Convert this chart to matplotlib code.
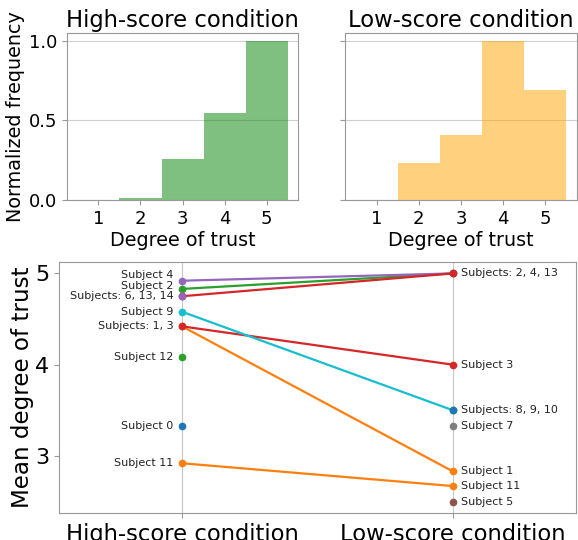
import matplotlib
matplotlib.use("Agg")
import matplotlib.pyplot as plt
import numpy as np

# histogram data (normalized frequency per trust level)
degrees = [1, 2, 3, 4, 5]
freq_high = [0.0, 0.015, 0.26, 0.55, 1.0]
freq_low = [0.0, 0.23, 0.41, 1.0, 0.69]

# mean degree of trust per subject (nan = not in that condition)
conditions = ["High-score condition", "Low-score condition"]
subjects = list(range(15))
mean_high = [3.33, 4.42, 4.83, 4.42, 4.92, np.nan, 4.75, np.nan, np.nan,
             4.58, np.nan, 2.92, 4.08, 4.75, 4.75]
mean_low = [np.nan, 2.83, 5.0, 4.0, 5.0, 2.5, np.nan, 3.33, 3.5,
            3.5, 3.5, 2.67, np.nan, 5.0, np.nan]

GRAY = "#999999"
TXT = "#222222"


def style(ax):
    for s in ax.spines.values():
        s.set_color(GRAY)
    ax.tick_params(color=GRAY, length=3.5)
    ax.set_axisbelow(True)


fig = plt.figure(figsize=(5.78, 5.40), dpi=100)
ax1 = fig.add_axes([0.1159, 0.6296, 0.3997, 0.3093])
ax2 = fig.add_axes([0.5969, 0.6296, 0.4014, 0.3093], sharey=ax1)
ax3 = fig.add_axes([0.1021, 0.05, 0.8945, 0.4648])

for ax, freq, col, title in [(ax1, freq_high, "green", conditions[0]),
                             (ax2, freq_low, "orange", conditions[1])]:
    ax.bar(degrees, freq, width=1.0, color=col, alpha=0.5, linewidth=0)
    ax.set_title(title, fontsize=16.3, pad=4)
    ax.set_xlabel("Degree of trust", fontsize=13.8, labelpad=2)
    ax.set_xticks(degrees)
    ax.set_yticks([0.0, 0.5, 1.0])
    ax.tick_params(labelsize=13)
    ax.grid(axis="y", color="#d0d0d0", linewidth=0.8)
    style(ax)
ax1.set_ylabel("Normalized frequency", fontsize=13.8, labelpad=3)
ax2.tick_params(labelleft=False)

# subject lines
for i in subjects:
    ax3.plot([0, 1], [mean_high[i], mean_low[i]], marker="o", markersize=4.5,
             linewidth=1.6, color=f"C{i % 10}")


def group_labels(values):
    groups = {}
    for i, v in enumerate(values):
        if not np.isnan(v):
            groups.setdefault(v, []).append(i)
    out = []
    for v in sorted(groups):
        ids = groups[v]
        if len(ids) == 1:
            txt = f"Subject {ids[0]}"
        else:
            txt = "Subjects: " + ", ".join(str(k) for k in ids)
        out.append((v, txt))
    return out


gap = 0.116
for x, vals, dx, ha in [(0, mean_high, -6, "right"), (1, mean_low, 6, "left")]:
    prev = -np.inf
    for v, txt in group_labels(vals):
        ypos = max(v, prev + gap)
        prev = ypos
        ax3.annotate(txt, (x, ypos), xytext=(dx, 0), textcoords="offset points",
                     ha=ha, va="center", fontsize=8, color=TXT)

ax3.set_xticks([0, 1])
ax3.set_xticklabels(conditions, fontsize=16.3)
ax3.set_xlim(-0.454, 1.454)
ax3.set_yticks([3, 4, 5])
ax3.tick_params(axis="y", labelsize=16)
ax3.set_ylabel("Mean degree of trust", fontsize=16.6, labelpad=1)
ax3.grid(axis="x", color="#c8c8c8", linewidth=0.8)
style(ax3)

fig.savefig("out.png", dpi=100)
